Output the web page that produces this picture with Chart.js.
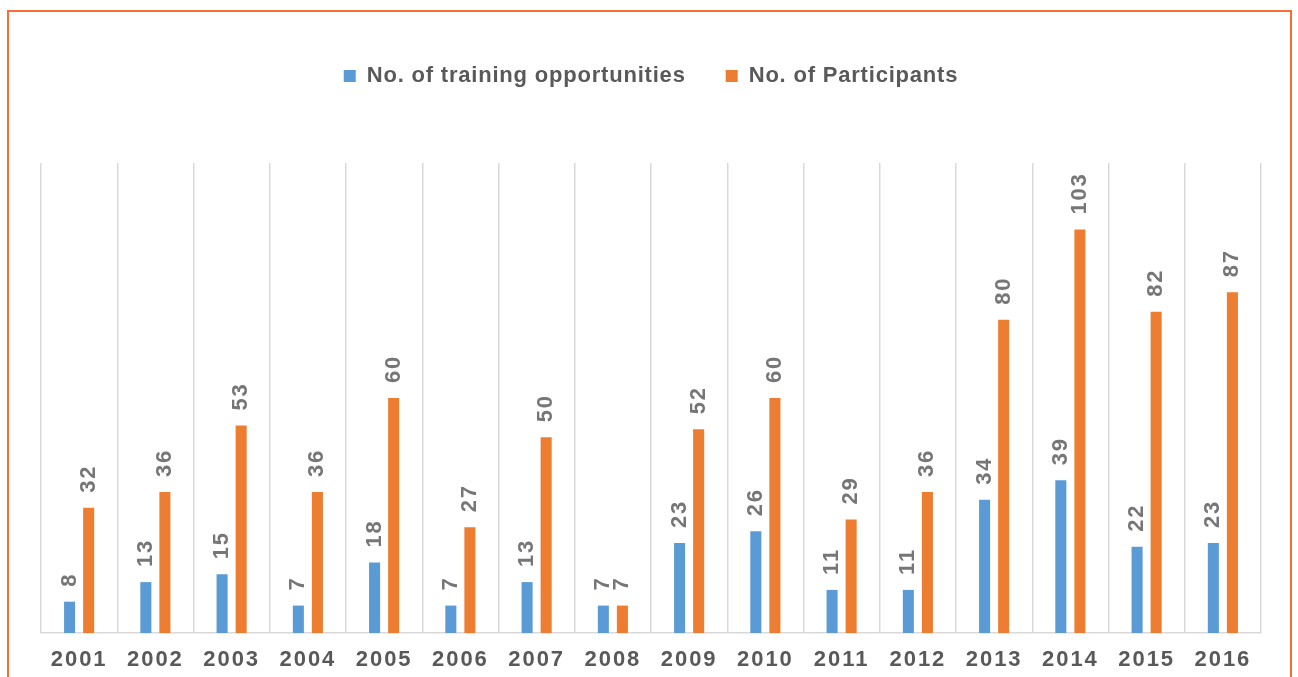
<!DOCTYPE html>
<html>
<head>
<meta charset="utf-8">
<script src="https://cdn.jsdelivr.net/npm/chart.js@4.4.1/dist/chart.umd.min.js"></script>
<style>
  html, body { margin: 0; padding: 0; background: #fff; overflow: hidden; }
  #frame {
    position: absolute; left: 7px; top: 10px; width: 1281px; height: 700px;
    border: 2px solid #F37032; border-bottom: none;
  }
  #wrap { position: absolute; left: 0; top: 0; width: 1298px; height: 677px; }
</style>
</head>
<body>
<div id="frame"></div>
<div id="wrap"><canvas id="chart"></canvas></div>
<script>
const years = ['2001', '2002', '2003', '2004', '2005', '2006', '2007', '2008',
               '2009', '2010', '2011', '2012', '2013', '2014', '2015', '2016'];
const trainingOpportunities = [8, 13, 15, 7, 18, 7, 13, 7, 23, 26, 11, 11, 34, 39, 22, 23];
const participants = [32, 36, 53, 36, 60, 27, 50, 7, 52, 60, 29, 36, 80, 103, 82, 87];

const fontFamily = '"Liberation Sans", Arial, sans-serif';
Chart.defaults.font.family = fontFamily;

// extra room under the legend
const legendGap = {
    id: 'legendGap',
    beforeInit(chart) {
        const fit = chart.legend.fit;
        chart.legend.fit = function () {
            fit.call(this);
            this.height += 66;
        };
    }
};

// letter spacing + rotated value labels
const valueLabels = {
    id: 'valueLabels',
    beforeLayout(chart) { chart.ctx.letterSpacing = '0.8px'; },
    beforeDraw(chart) { chart.ctx.letterSpacing = '0.8px'; },
    afterDatasetsDraw(chart) {
        const ctx = chart.ctx;
        ctx.save();
        ctx.letterSpacing = '1.8px';
        ctx.font = 'bold 22px ' + fontFamily;
        ctx.fillStyle = '#767676';
        ctx.textAlign = 'left';
        ctx.textBaseline = 'middle';
        chart.data.datasets.forEach((ds, i) => {
            chart.getDatasetMeta(i).data.forEach((bar, j) => {
                ctx.save();
                ctx.translate(bar.x, bar.y - 15);
                ctx.rotate(-Math.PI / 2);
                ctx.fillText(String(ds.data[j]), 0, 0);
                ctx.restore();
            });
        });
        ctx.restore();
        // x tick labels are drawn after this (ticks.z = 1)
        ctx.letterSpacing = '2px';
    }
};

new Chart(document.getElementById('chart'), {
    type: 'bar',
    data: {
        labels: years,
        datasets: [{
            label: 'No. of training opportunities',
            data: trainingOpportunities,
            backgroundColor: '#5B9BD5'
        }, {
            label: 'No. of Participants',
            data: participants,
            backgroundColor: '#ED7D31'
        }]
    },
    options: {
        responsive: true,
        maintainAspectRatio: false,
        animation: false,
        devicePixelRatio: 1,
        categoryPercentage: 0.5,
        barPercentage: 0.58,
        layout: { padding: { top: 25, left: 41, right: 37, bottom: 0 } },
        plugins: {
            tooltip: { enabled: false },
            legend: {
                position: 'top',
                labels: {
                    boxWidth: 12,
                    boxHeight: 12,
                    padding: 40,
                    color: '#595959',
                    font: { size: 22, weight: 'bold' }
                }
            }
        },
        scales: {
            x: {
                grid: { color: '#D9D9D9', lineWidth: 1.5, drawTicks: false, offset: true },
                border: { color: '#D9D9D9', width: 1.5 },
                ticks: {
                    color: '#595959',
                    font: { size: 22, weight: 'bold' },
                    padding: 14,
                    maxRotation: 0,
                    autoSkip: false,
                    z: 1
                },
                afterFit(scale) { scale.height = 44; }
            },
            y: {
                display: false,
                min: 0,
                max: 120
            }
        }
    },
    plugins: [legendGap, valueLabels]
});
</script>
</body>
</html>
